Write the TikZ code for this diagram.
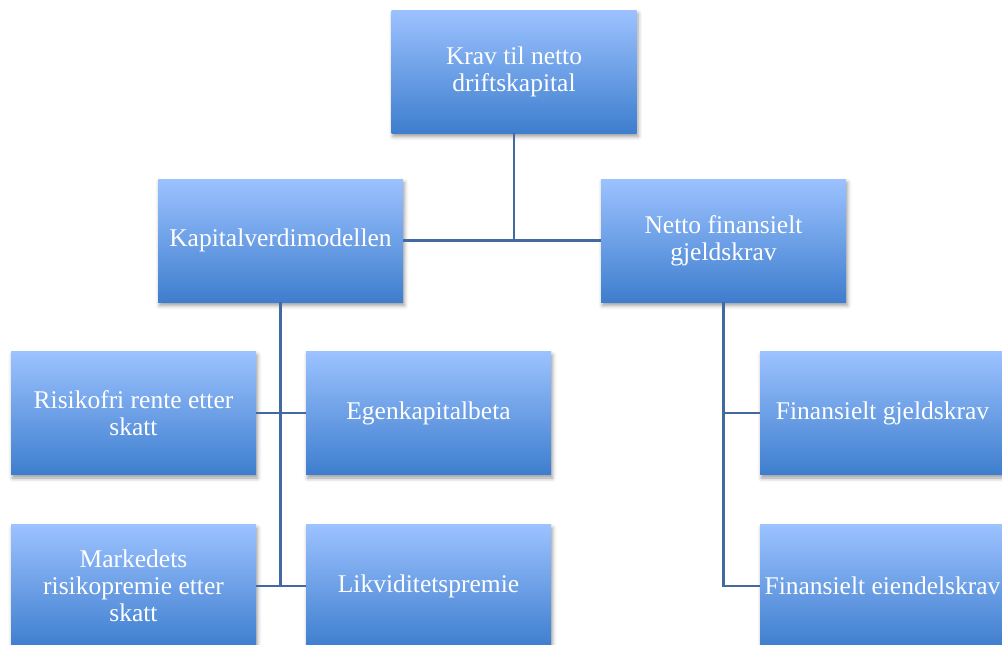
\documentclass[tikz,border=0pt]{standalone}
\usepackage{fontspec}
\setmainfont{Liberation Serif}
\usetikzlibrary{shadows.blur}
\definecolor{boxtop}{RGB}{156,194,255}
\definecolor{boxbot}{RGB}{62,126,206}
\definecolor{linkcol}{RGB}{66,106,160}
\tikzset{
  box/.style={rectangle, minimum width=245pt, minimum height=123pt, inner sep=0pt,
    top color=boxtop, bottom color=boxbot, draw=none, text=white, align=center,
    font=\fontsize{25.5}{27}\selectfont,
    blur shadow={shadow xshift=1.5pt, shadow yshift=-3.5pt, shadow blur radius=4pt, shadow opacity=40}},
  link/.style={draw=linkcol, line width=2.2pt}
}
\begin{document}
\begin{tikzpicture}[x=1pt,y=1pt]
\useasboundingbox (0,0) rectangle (1002,-645);
% boxes of the tree
\node[box] (top)   at (514,-71.5)   {Krav til netto\\driftskapital};
\node[box] (kap)   at (280.5,-240.5) {Kapitalverdimodellen};
\node[box] (netto) at (723.5,-240.5) {Netto finansielt\\gjeldskrav};
\node[box] (risk)  at (133.5,-413)  {Risikofri rente etter\\skatt};
\node[box] (egen)  at (428.5,-413)  {Egenkapitalbeta};
\node[box] (mark)  at (133.5,-586)  {Markedets\\risikopremie etter\\skatt};
\node[box] (likv)  at (428.5,-586)  {Likviditetspremie};
\node[box] (fing)  at (882.5,-413)  {Finansielt gjeldskrav};
\node[box] (fine)  at (882.5,-586)  {Finansielt eiendelskrav};
% tree connectors
\draw[link] (top.south) -- (top.south |- kap.east);
\draw[link] (kap.east) -- (netto.west);
\draw[link] (kap.south) -- (kap.south |- mark.east);
\draw[link] (risk.east) -- (egen.west);
\draw[link] (mark.east) -- (likv.west);
\draw[link] (netto.south) |- (fing.west);
\draw[link] (netto.south) |- (fine.west);
\end{tikzpicture}
\end{document}
